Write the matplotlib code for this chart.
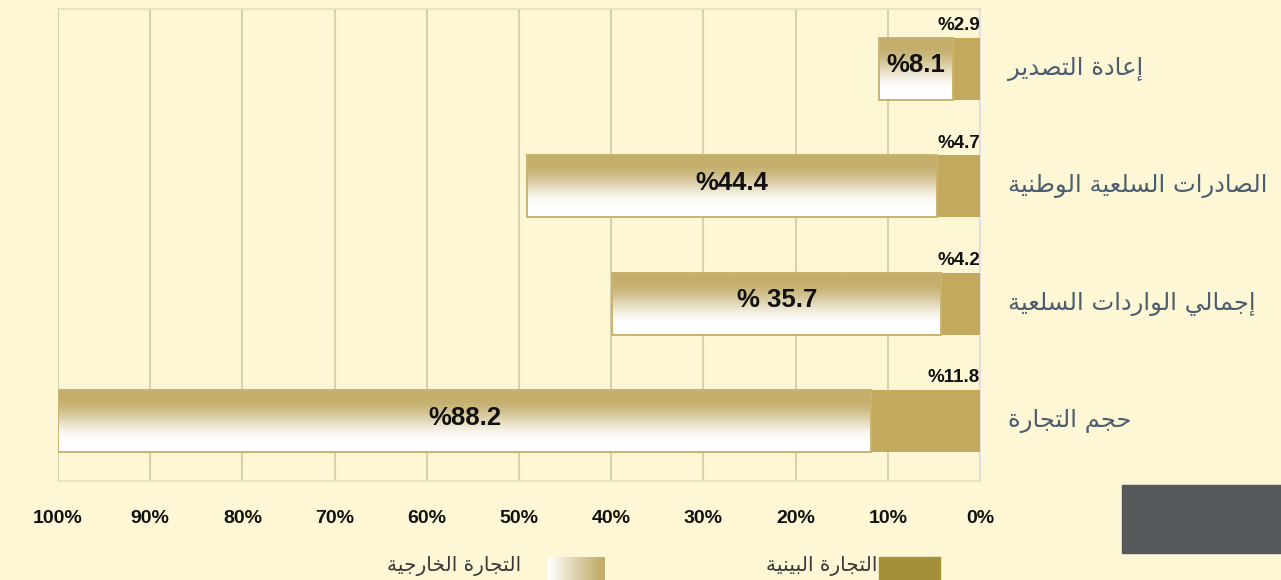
import matplotlib
matplotlib.use("Agg")
import matplotlib.pyplot as plt
from matplotlib.patches import Rectangle
import numpy as np

# data
categories = ["إعادة التصدير", "الصادرات السلعية الوطنية",
              "إجمالي الواردات السلعية", "حجم التجارة"]
inner_trade = [2.9, 4.7, 4.2, 11.8]      # التجارة البينية
outer_trade = [8.1, 44.4, 35.7, 88.2]    # التجارة الخارجية
inner_labels = ["%2.9", "%4.7", "%4.2", "%11.8"]
outer_labels = ["%8.1", "%44.4", "% 35.7", "%88.2"]
ticks = [100, 90, 80, 70, 60, 50, 40, 30, 20, 10, 0]
tick_labels = [f"{t}%" for t in ticks]
legend_inner = "التجارة البينية"
legend_outer = "التجارة الخارجية"

BG = "#fdf7d6"
DARK = "#c3a95e"
GOLD = np.array([196, 174, 108]) / 255.0
LEG_DARK = "#a39137"
LABEL_COL = "#4c5d70"

# --- tiny arabic shaper (matplotlib has no bidi / joining support) ---
DUAL = dict(zip("بتثجحخسشصضطظعغفقكلمنهيئ",
                [0xFE8F, 0xFE95, 0xFE99, 0xFE9D, 0xFEA1, 0xFEA5, 0xFEB1, 0xFEB5,
                 0xFEB9, 0xFEBD, 0xFEC1, 0xFEC5, 0xFEC9, 0xFECD, 0xFED1, 0xFED5,
                 0xFED9, 0xFEDD, 0xFEE1, 0xFEE5, 0xFEE9, 0xFEF1, 0xFE89]))
RIGHT = dict(zip("آأؤإاةدذرزوى",
                 [0xFE81, 0xFE83, 0xFE85, 0xFE87, 0xFE8D, 0xFE93, 0xFEA9, 0xFEAB,
                  0xFEAD, 0xFEAF, 0xFEED, 0xFEEF]))


def shape_ar(text):
    out = []
    n = len(text)
    for i, c in enumerate(text):
        if c not in DUAL and c not in RIGHT:
            out.append(c)
            continue
        prev = text[i - 1] if i > 0 else ""
        nxt = text[i + 1] if i < n - 1 else ""
        join_prev = prev in DUAL
        join_next = c in DUAL and (nxt in DUAL or nxt in RIGHT)
        if c in RIGHT:
            out.append(chr(RIGHT[c] + (1 if join_prev else 0)))
        else:
            if join_prev and join_next:
                k = 3
            elif join_prev:
                k = 1
            elif join_next:
                k = 2
            else:
                k = 0
            out.append(chr(DUAL[c] + k))
    return "".join(reversed(out))


def vgrad(n=100):
    t = np.linspace(0, 1, n)
    w = np.clip((0.85 - t) / 0.72, 0, 1)
    w = w * w * (3 - 2 * w)
    rgb = 1 - (1 - GOLD)[None, :] * w[:, None]
    return rgb[:, None, :]


W, H = 1281, 580
fig = plt.figure(figsize=(W / 100, H / 100), dpi=100, facecolor=BG)
ax = fig.add_axes([58 / W, 1 - 481 / H, (980 - 58) / W, (481 - 9) / H])
ax.set_facecolor(BG)

y = np.arange(len(categories))
bh = 0.53

ax.barh(y, inner_trade, left=0, height=bh, color=DARK, zorder=3)
outer_bars = ax.barh(y, outer_trade, left=inner_trade, height=bh,
                     facecolor="none", edgecolor="#c9b36e", linewidth=1.4, zorder=4)

for yi, inn, out in zip(y, inner_trade, outer_trade):
    ax.imshow(vgrad(), extent=(inn + out, inn, yi + bh / 2, yi - bh / 2),
              origin="upper", aspect="auto", zorder=3.5, interpolation="bilinear")

for yi, inn, out, il, ol, cat in zip(y, inner_trade, outer_trade,
                                     inner_labels, outer_labels, categories):
    ax.text(0, yi - bh / 2 - 0.03, il, ha="right", va="bottom",
            fontsize=13.5, fontweight="bold", color="#111111",
            family="Liberation Sans", zorder=6)
    ax.text(inn + out / 2, yi - 0.03, ol, ha="center", va="center",
            fontsize=18.5, fontweight="bold", color="#111111",
            family="Liberation Sans", zorder=6)
    ax.text(-3.0, yi, shape_ar(cat), ha="left", va="center", fontsize=17.5,
            color=LABEL_COL, family="DejaVu Sans", clip_on=False)

ax.set_xlim(100, 0)
ax.set_ylim(3.51, -0.51)
ax.set_yticks([])
ax.set_xticks(ticks)
ax.set_xticklabels(tick_labels, fontsize=14, fontweight="bold",
                   family="Liberation Sans", color="#111111")
ax.tick_params(axis="x", length=0, pad=21)
ax.grid(axis="x", color="#d8d1aa", linewidth=1.5)
ax.set_axisbelow(True)
for s in ["top", "bottom"]:
    ax.spines[s].set_color("#e7e0bd")
    ax.spines[s].set_linewidth(1.2)
ax.spines["left"].set_visible(False)
ax.spines["right"].set_color("#e2dde6")
ax.spines["right"].set_linewidth(1.2)

# dark grey block at bottom right
fig.patches.append(Rectangle((1122 / W, 1 - 553 / H), (W - 1122) / W, 68 / H,
                             transform=fig.transFigure, color="#54585a"))

# legend
fig.patches.append(Rectangle((879 / W, 0), 61 / W, 23 / H,
                             transform=fig.transFigure, color=LEG_DARK))
fig.text(877 / W, 1 - 566 / H, shape_ar(legend_inner), ha="right", va="center",
         fontsize=14.5, color="#3a3a3a", family="DejaVu Sans")
lax = fig.add_axes([548 / W, 0, 57 / W, 23 / H])
t = np.linspace(0, 1, 100)
w = np.clip(t * 1.1, 0, 1)
hg = 1 - (1 - GOLD)[None, :] * w[:, None]
lax.imshow(hg[None, :, :], aspect="auto", interpolation="bilinear")
lax.axis("off")
fig.text(521 / W, 1 - 566 / H, shape_ar(legend_outer), ha="right", va="center",
         fontsize=14.5, color="#3a3a3a", family="DejaVu Sans")

fig.savefig("out.png", dpi=100, facecolor=BG)
